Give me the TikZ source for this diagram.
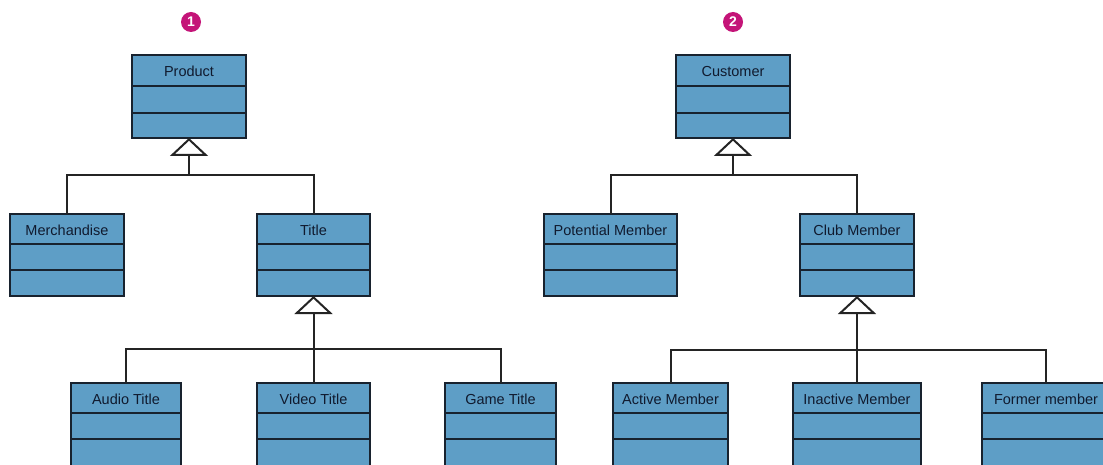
\documentclass[tikz,border=0pt]{standalone}
\usepackage{fontspec}
\setmainfont{Liberation Sans}
\usetikzlibrary{arrows.meta,calc}
\definecolor{boxfill}{RGB}{94,158,198}
\definecolor{boxline}{RGB}{24,34,46}
\definecolor{txt}{RGB}{16,26,46}
\definecolor{badge}{RGB}{196,20,120}
\definecolor{conn}{RGB}{36,36,36}
\tikzset{
  classbox/.style={draw=boxline, fill=boxfill, line width=2pt, inner sep=0pt, outer sep=0pt},
  divider/.style={draw=boxline, line width=2pt},
  classname/.style={font=\fontsize{14.5}{16}\selectfont, text=txt, inner sep=0pt},
  conn/.style={draw=conn, line width=2pt},
  gen/.style={conn, -{Triangle[open, length=18pt, width=38pt, line width=2pt, fill=white]}},
  badgestyle/.style={circle, fill=badge, minimum size=20pt, inner sep=0pt, text=white, font=\bfseries\fontsize{14}{14}\selectfont}
}
% name, xl, xr, ytop, d1, d2, ybottom, text
\newcommand{\umlclass}[8]{%
  \node[classbox, anchor=north west, minimum width={(#3-#2)*1pt}, minimum height={(#7-#4)*1pt}] (#1) at (#2,#4) {};
  \draw[divider] (#2,#5) -- (#3,#5);
  \draw[divider] (#2,#6) -- (#3,#6);
  \node[classname] (#1-name) at ({(#2+#3)/2},{(#4+#5)/2+1}) {#8};
}
\begin{document}
\begin{tikzpicture}[x=1pt,y=-1pt]
\clip (0,0) rectangle (1103,465);
\fill[white] (0,0) rectangle (1103,465);

% badges
\node[badgestyle] (b1) at (191,22) {1};
\node[badgestyle] (b2) at (733,22) {2};

% diagram 1
\umlclass{product}{132}{246}{55}{86}{113}{138}{Product}
\umlclass{merch}{10}{124}{214}{244}{270}{296}{Merchandise}
\umlclass{title}{257}{370}{214}{244}{270}{296}{Title}
\umlclass{audio}{71}{181}{383}{413}{439}{470}{Audio Title}
\umlclass{video}{257}{370}{383}{413}{439}{470}{Video Title}
\umlclass{game}{445}{556}{383}{413}{439}{470}{Game Title}

% diagram 2
\umlclass{customer}{676}{790}{55}{86}{113}{138}{Customer}
\umlclass{potential}{544}{677}{214}{244}{270}{296}{Potential Member}
\umlclass{club}{800}{914}{214}{244}{270}{296}{Club Member}
\umlclass{active}{613}{728}{383}{413}{439}{470}{Active Member}
\umlclass{inactive}{793}{921}{383}{413}{439}{470}{Inactive Member}
\umlclass{former}{982}{1110}{383}{413}{439}{470}{Former member}

% junctions
\coordinate (j1) at (189,175);
\coordinate (j2) at (313.5,349);
\coordinate (j3) at (733,175);
\coordinate (j4) at (857,350);

% connectors diagram 1
\draw[conn] (merch.north) |- (j1);
\draw[conn] (title.north) |- (j1);
\draw[gen] (j1) -- (product.south);
\draw[conn] (audio.north) |- (j2);
\draw[conn] (game.north) |- (j2);
\draw[conn] (video.north) -- (j2);
\draw[gen] (j2) -- (title.south);

% connectors diagram 2
\draw[conn] (potential.north) |- (j3);
\draw[conn] (club.north) |- (j3);
\draw[gen] (j3) -- (customer.south);
\draw[conn] (active.north) |- (j4);
\draw[conn] (former.north) |- (j4);
\draw[conn] (inactive.north) -- (j4);
\draw[gen] (j4) -- (club.south);
\end{tikzpicture}
\end{document}
